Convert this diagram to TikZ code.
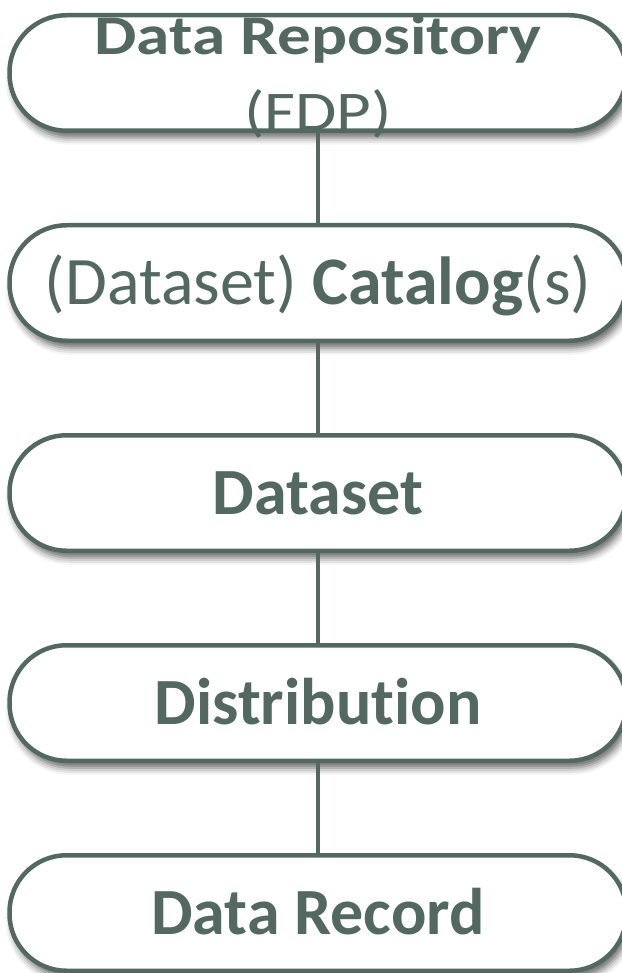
\documentclass[tikz,border=0pt]{standalone}
\usepackage{fontspec}
\setmainfont{Carlito}[Ligatures=NoCommon]
\usepackage{graphicx}
\usetikzlibrary{positioning,shadows.blur}
\definecolor{slate}{HTML}{546862}

\begin{document}
\begin{tikzpicture}[x=1pt,y=-1pt,
    level/.style={draw=slate, line width=4.5pt, fill=white, rounded corners=57pt,
      minimum width=617pt, minimum height=115.5pt, inner sep=0pt, outer sep=0pt,
      text=slate, font=\fontsize{66}{80}\selectfont, text height=42pt, text depth=0pt,
      blur shadow={shadow xshift=3pt, shadow yshift=-7pt, shadow blur radius=7pt, shadow opacity=60}},
    link/.style={draw=slate, line width=4.5pt},
    node distance=94.5pt]
      \useasboundingbox (0,0) rectangle (621,973);

      \node[level, font=\fontsize{56}{76}\selectfont, text height=35pt, text depth=71pt] (repo) at (318,73)
        {\scalebox{1.2}[1]{\begin{tabular}[t]{@{}c@{}}\textbf{Data Repository}\\(FDP)\end{tabular}}};
      \node[level, font=\fontsize{68}{80}\selectfont, text height=43pt] (catalog) [below=of repo] {(Dataset) \textbf{Catalog}(s)};
      \node[level, below=of catalog] (dataset) {\textbf{Dataset}};
      \node[level, below=of dataset] (distribution) {\textbf{Distribution}};
      \node[level, below=of distribution] (record) {\textbf{Data Record}};

      \foreach \a/\b in {repo/catalog,catalog/dataset,dataset/distribution,distribution/record}
        \draw[link] (\a.south) -- (\b.north);
    \end{tikzpicture}
\end{document}
